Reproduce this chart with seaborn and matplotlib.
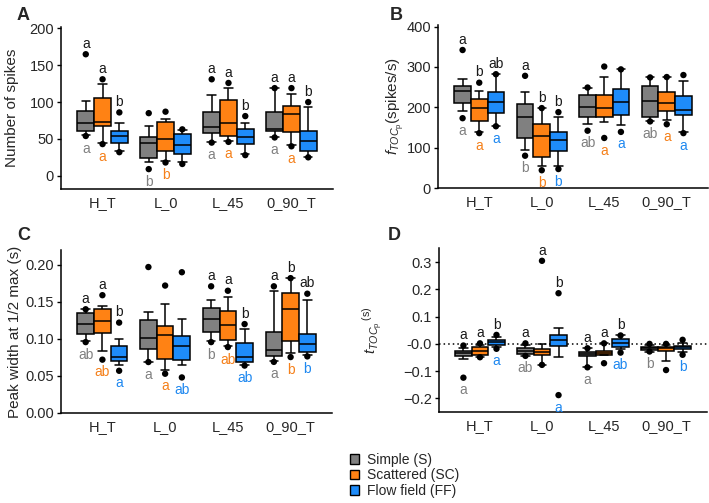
import numpy as np
import pandas as pd
import matplotlib
matplotlib.use('Agg')
import matplotlib.pyplot as plt
import seaborn as sns
from matplotlib.patches import Patch

# ---------------- data ----------------
groups = ['H_T', 'L_0', 'L_45', '0_90_T']
conditions = ['Simple (S)', 'Scattered (SC)', 'Flow field (FF)']
box_colors = ['#808080', '#FF8214', '#1E8CFA']
letter_colors = ['#808080', '#F5801A', '#1E88F0']

# Panel A: number of spikes  (rows = groups, cols = S, SC, FF)
A_whislo = [[55, 45, 33], [18, 20, 18], [46, 47, 29], [53, 42, 26]]
A_q1 = [[61, 68, 45], [24, 33, 30], [58, 54, 43], [61, 60, 33]]
A_med = [[71, 73, 54], [44, 50, 42], [66, 71, 52], [63, 84, 47]]
A_q3 = [[88, 106, 61], [52, 73, 57], [87, 103, 63], [87, 95, 61]]
A_whishi = [[101, 125, 71], [67, 77, 62], [109, 119, 71], [119, 111, 93]]
A_flier_lo = [[54, 43, 32], [9, 18, 16], [45, 46, 28], [52, 40, 25]]
A_flier_hi = [[165, 131, 86], [85, 87, 63], [131, 126, 81], [119, 119, 100]]
A_top = [['a', 'a', 'b'], ['', '', ''], ['a', 'a', 'b'], ['a', 'a', 'b']]
A_bot = [['a', 'a', ''], ['b', 'b', ''], ['a', 'a', ''], ['a', 'a', '']]

# Panel B: f_TOCp (spikes/s)
B_whislo = [[191, 140, 154], [93, 54, 55], [158, 163, 157], [167, 169, 140]]
B_q1 = [[210, 167, 187], [125, 77, 91], [175, 175, 181], [177, 190, 181]]
B_med = [[241, 198, 213], [177, 128, 118], [202, 198, 213], [216, 210, 194]]
B_q3 = [[254, 220, 238], [209, 158, 138], [231, 231, 246], [253, 239, 227]]
B_whishi = [[270, 241, 282], [237, 198, 177], [249, 276, 294], [274, 275, 264]]
B_flier_lo = [[173, 136, 153], [80, 44, 47], [142, 124, 139], [165, 158, 136]]
B_flier_hi = [[342, 261, 282], [278, 198, 188], [249, 301, 294], [274, 275, 280]]
B_top = [['a', 'b', 'ab'], ['a', 'b', 'b'], ['', '', ''], ['', '', '']]
B_bot = [['a', 'a', 'a'], ['b', 'b', 'b'], ['ab', 'a', 'a'], ['ab', 'a', 'a']]

# Panel C: peak width at 1/2 max (s)
C_whislo = [[.0966, .084, .0643], [.0688, .0584, .065], [.0975, .090, .065], [.0697, .081, .0778]]
C_q1 = [[.1065, .108, .0697], [.0863, .0728, .072], [.109, .098, .0688], [.077, .0975, .083]]
C_med = [[.120, .124, .0755], [.101, .1056, .091], [.1267, .119, .0755], [.085, .141, .0935]]
C_q3 = [[.135, .140, .090], [.125, .118, .104], [.1416, .138, .095], [.109, .162, .107]]
C_whishi = [[.140, .145, .0998], [.136, .147, .127], [.152, .156, .113], [.165, .182, .153]]
C_flier_lo = [[.0957, .072, .057], [.0688, .053, .048], [.0957, .089, .064], [.069, .0755, .0764]]
C_flier_hi = [[.140, .159, .122], [.197, .172, .190], [.171, .165, .120], [.171, .182, .161]]
C_top = [['a', 'a', 'b'], ['', '', ''], ['a', 'a', 'b'], ['a', 'b', 'ab']]
C_bot = [['ab', 'ab', 'a'], ['a', 'a', 'ab'], ['b', 'ab', 'ab'], ['a', 'b', 'b']]

# Panel D: t_TOCp (s)
D_whislo = [[-.056, -.047, -.013], [-.044, -.077, -.049], [-.086, -.040, -.018], [-.028, -.0625, -.028]]
D_q1 = [[-.043, -.040, -.004], [-.038, -.040, -.006], [-.044, -.040, -.012], [-.022, -.026, -.020]]
D_med = [[-.034, -.026, .006], [-.026, -.028, .015], [-.037, -.032, .002], [-.016, -.016, -.012]]
D_q3 = [[-.026, -.013, .015], [-.016, -.020, .031], [-.028, -.025, .017], [-.012, -.012, -.006]]
D_whishi = [[-.016, -.004, .027], [-.004, 0.0, .058], [-.016, .002, .031], [-.004, -.004, .002]]
D_flier_lo = [[-.124, -.049, -.018], [-.044, -.077, -.188], [-.086, -.071, -.032], [-.028, -.096, -.040]]
D_flier_hi = [[-.006, .002, .033], [.002, .305, .186], [-.016, .002, .031], [0.0, 0.0, .015]]
D_top = [['a', 'a', 'b'], ['a', 'a', 'b'], ['a', 'a', 'b'], ['', '', '']]
D_bot = [['a', '', 'a'], ['ab', '', 'a'], ['a', '', 'ab'], ['b', '', 'b']]

A_yticks = [0, 50, 100, 150, 200]
A_yticklabels = ['0', '50', '100', '150', '200']
B_yticks = [0, 100, 200, 300, 400]
B_yticklabels = ['0', '100', '200', '300', '400']
C_yticks = [0.0, 0.05, 0.10, 0.15, 0.20]
C_yticklabels = ['0.00', '0.05', '0.10', '0.15', '0.20']
D_yticks = [0.3, 0.2, 0.1, 0.0, -0.1, -0.2]
D_yticklabels = ['0.3', '0.2', '0.1', '-0.0', '\u22120.1', '\u22120.2']

# ---------------- style ----------------
sns.set_theme(style='ticks')
plt.rcParams['font.family'] = ['Liberation Sans', 'DejaVu Sans']
plt.rcParams['mathtext.fontset'] = 'custom'
plt.rcParams['mathtext.rm'] = 'Liberation Sans'
plt.rcParams['mathtext.it'] = 'Liberation Sans:italic'
plt.rcParams['axes.linewidth'] = 1.1
plt.rcParams['axes.edgecolor'] = 'black'

FS = 10
fig = plt.figure(figsize=(7.09, 5.03), dpi=100)
W, H = 709, 503


def px_axes(x0, x1, ytop, ybot):
    return fig.add_axes([x0 / W, 1 - ybot / H, (x1 - x0) / W, (ybot - ytop) / H])


def draw_panel(ax, whislo, q1, med, q3, whishi, flo, fhi, top, bot,
               ylim, yticks, yticklabels, ylabel, labelx):
    rows = []
    for gi, g in enumerate(groups):
        for ci, c in enumerate(conditions):
            for v in (whislo[gi][ci], q1[gi][ci], med[gi][ci], q3[gi][ci], whishi[gi][ci]):
                rows.append((g, c, v))
    df = pd.DataFrame(rows, columns=['group', 'cond', 'value'])
    frows = []
    for gi, g in enumerate(groups):
        for ci, c in enumerate(conditions):
            frows.append((g, c, flo[gi][ci]))
            frows.append((g, c, fhi[gi][ci]))
    fdf = pd.DataFrame(frows, columns=['group', 'cond', 'value'])

    sns.boxplot(data=df, x='group', y='value', hue='cond', order=groups,
                hue_order=conditions, palette=box_colors, saturation=1,
                whis=(0, 100), width=0.8, gap=0, linecolor='black',
                linewidth=1.1, showfliers=False, legend=False, ax=ax)
    sns.stripplot(data=fdf, x='group', y='value', hue='cond', order=groups,
                  hue_order=conditions, palette=['black'] * 3, dodge=True,
                  jitter=False, size=4.6, legend=False, ax=ax, zorder=5)

    n = len(conditions)
    each = 0.8 / n
    for gi in range(len(groups)):
        for ci in range(n):
            x = gi + (ci - (n - 1) / 2) * each
            hi = max(fhi[gi][ci], whishi[gi][ci])
            lo = min(flo[gi][ci], whislo[gi][ci])
            if top[gi][ci]:
                ax.annotate(top[gi][ci], (x, hi), xytext=(0, 4.5),
                            textcoords='offset points', ha='center',
                            va='baseline', fontsize=FS, color='#1a1a1a')
            if bot[gi][ci]:
                ax.annotate(bot[gi][ci], (x, lo), xytext=(0, -4),
                            textcoords='offset points', ha='center',
                            va='top', fontsize=FS, color=letter_colors[ci])

    ax.set_xlim(-0.66, 3.66)
    ax.set_ylim(*ylim)
    ax.set_yticks(yticks)
    ax.set_yticklabels(yticklabels, fontsize=10.5)
    ax.set_xticks(range(len(groups)))
    ax.set_xticklabels(groups, fontsize=10.5)
    ax.tick_params(axis='x', length=0, pad=5)
    ax.tick_params(axis='y', length=3, width=1.0, pad=2, color='black')
    ax.set_xlabel('')
    ax.set_ylabel(ylabel, fontsize=11)
    ax.yaxis.set_label_coords(labelx, 0.5)
    sns.despine(ax=ax)
    ax.spines['left'].set_color('black')
    ax.spines['bottom'].set_color('black')


axA = px_axes(61, 333, 27, 189)
draw_panel(axA, A_whislo, A_q1, A_med, A_q3, A_whishi, A_flier_lo, A_flier_hi,
           A_top, A_bot, (-18, 202), A_yticks, A_yticklabels,
           'Number of spikes', -0.155)

axB = px_axes(438, 708, 25, 188)
draw_panel(axB, B_whislo, B_q1, B_med, B_q3, B_whishi, B_flier_lo, B_flier_hi,
           B_top, B_bot, (0, 404), B_yticks, B_yticklabels,
           r'$f_{TOC_{\mathrm{p}}}$(spikes/s)', -0.12)

axC = px_axes(61, 332, 250, 413)
draw_panel(axC, C_whislo, C_q1, C_med, C_q3, C_whishi, C_flier_lo, C_flier_hi,
           C_top, C_bot, (0, 0.22), C_yticks, C_yticklabels,
           'Peak width at 1/2 max (s)', -0.145)

axD = px_axes(439, 707, 248, 412)
draw_panel(axD, D_whislo, D_q1, D_med, D_q3, D_whishi, D_flier_lo, D_flier_hi,
           D_top, D_bot, (-0.25, 0.352), D_yticks, D_yticklabels,
           r'$t_{TOC_{\mathrm{p}}}\,^{\mathrm{(s)}}$', -0.2)
axD.axhline(0, color='black', lw=1.1, ls=(0, (1, 2)), zorder=0)

for letter, (x, y) in zip('ABCD', [(17, 7), (390, 7), (17, 227), (388, 227)]):
    fig.text(x / W, 1 - y / H, letter, fontsize=13, fontweight='bold',
             ha='left', va='top')

handles = [Patch(facecolor=c, edgecolor='black', linewidth=1.0) for c in box_colors]
fig.legend(handles, conditions, loc='upper left',
           bbox_to_anchor=(350 / W, 1 - 453 / H), frameon=False,
           fontsize=10, handlelength=0.65, handleheight=0.65,
           handletextpad=0.6, labelspacing=0.1, borderpad=0,
           borderaxespad=0)

fig.savefig('out.png', dpi=100)
